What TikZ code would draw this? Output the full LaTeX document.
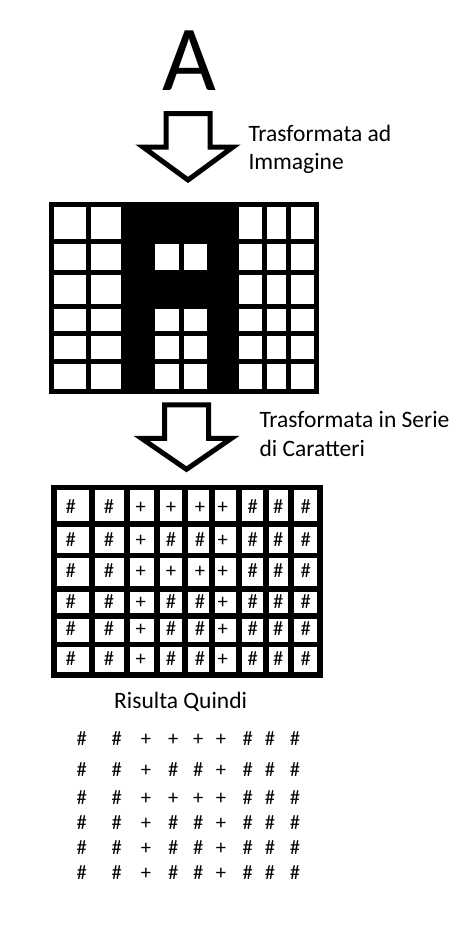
\documentclass[tikz,border=0pt]{standalone}
\usepackage{fontspec}
\setmainfont{Carlito}

\begin{document}
\begin{tikzpicture}[x=1pt,y=-1pt,
  testo/.style={anchor=base west,inner sep=0pt,font=\fontsize{23.5}{28}\selectfont},
  simbolo/.style={anchor=base,inner sep=0pt,font=\fontsize{20.5}{24}\selectfont},
  griglia/.style={line width=5pt,line cap=rect},
  freccia/.style={line width=5pt,line join=miter}]
\useasboundingbox (0,0) rectangle (468,930);
\pgfmathsetmacro{\fusto}{22}
\pgfmathsetmacro{\fustoh}{33.5}
\pgfmathsetmacro{\ala}{23}
\pgfmathsetmacro{\punta}{33}

% lettera di partenza
\node[anchor=base,inner sep=0pt,font=\fontsize{93}{93}\selectfont] (lettera) at (189,90) {A};

% prima freccia
\coordinate (freccia1) at (188,113.5);
\draw[freccia] (freccia1) ++(-\fusto,0) -- ++(2*\fusto,0) -- ++(0,\fustoh) -- ++(\ala,0) -- ++(-\fusto-\ala,\punta) -- ++(-\fusto-\ala,-\punta) -- ++(\ala,0) -- cycle;
\node[testo] (trasf1) at (248.3,141) {Trasformata ad};
\node[testo] (trasf1b) at (248.3,169) {Immagine};

% immagine della lettera
\fill (123,204.5) rectangle (236.7,391);
\fill[white] (152.7,241.2) rectangle (209,272.5);
\fill[white] (152.7,306.3) rectangle (209,391);
\foreach \x in {51.5,88.3,123,152.7,181.7,209,236.7,264.7,288.3,316.5}
  \draw[griglia] (\x,204.5) -- (\x,391);
\foreach \y in {204.5,241.2,272.5,306.3,333.8,361.2,391}
  \draw[griglia] (51.5,\y) -- (316.5,\y);

% seconda freccia
\coordinate (freccia2) at (186.5,404.8);
\draw[freccia] (freccia2) ++(-\fusto,0) -- ++(2*\fusto,0) -- ++(0,\fustoh) -- ++(\ala,0) -- ++(-\fusto-\ala,\punta-2) -- ++(-\fusto-\ala,-\punta+2) -- ++(\ala,0) -- cycle;
\node[testo] (trasf2) at (259.3,427.3) {Trasformata in Serie};
\node[testo] (trasf2b) at (259.3,456.7) {di Caratteri};

% griglia di caratteri
\foreach \x in {54,91.5,126.7,156.7,185.3,212.2,238.8,266.3,291.2,319.5}
  \draw[griglia,line width=6pt] (\x,487.5) -- (\x,675);
\foreach \y in {487.5,524.2,555.3,589.2,616.2,644.5,675}
  \draw[griglia,line width=5.5pt] (54,\y) -- (319.5,\y);
\foreach \y/\riga [count=\r] in {513.2/{\#,\#,+,+,+,+,\#,\#,\#},546.5/{\#,\#,+,\#,\#,+,\#,\#,\#},
    577.2/{\#,\#,+,+,+,+,\#,\#,\#},608.8/{\#,\#,+,\#,\#,+,\#,\#,\#},
    635.5/{\#,\#,+,\#,\#,+,\#,\#,\#},665.5/{\#,\#,+,\#,\#,+,\#,\#,\#}}
  \foreach \s [count=\c from 0] in \riga {
    \pgfmathsetmacro{\xx}{{70.7,109,140.7,171,200,222.7,252.7,278.3,305.7}[\c]}
    \node[simbolo] (cella-\r-\c) at (\xx,\y) {\s};
  }

\node[testo] (risulta) at (114,708) {Risulta Quindi};

% serie di caratteri
\foreach \y/\riga [count=\r] in {745.5/{\#,\#,+,+,+,+,\#,\#,\#},776.5/{\#,\#,+,\#,\#,+,\#,\#,\#},
    804.8/{\#,\#,+,+,+,+,\#,\#,\#},829.8/{\#,\#,+,\#,\#,+,\#,\#,\#},
    854.2/{\#,\#,+,\#,\#,+,\#,\#,\#},879.8/{\#,\#,+,\#,\#,+,\#,\#,\#}}
  \foreach \s [count=\c from 0] in \riga {
    \pgfmathsetmacro{\xx}{{81.7,116.7,146,173.3,198.3,221,247.7,270,295}[\c]}
    \node[simbolo] (serie-\r-\c) at (\xx,\y) {\s};
  }
\end{tikzpicture}
\end{document}
